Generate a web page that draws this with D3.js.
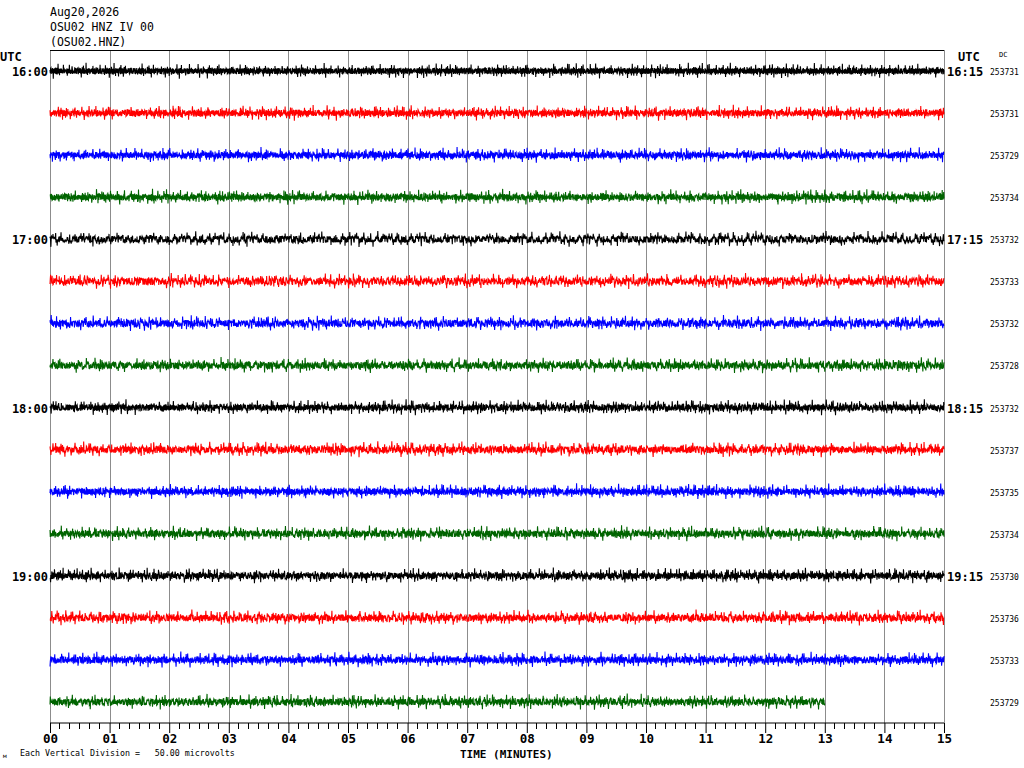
<!DOCTYPE html>
<html>
<head>
<meta charset="utf-8">
<script src="https://d3js.org/d3.v7.min.js"></script>
<style>
  body { margin: 0; background: #fff; }
  svg text { font-family: "DejaVu Sans Mono", monospace; fill: #000; }
</style>
</head>
<body>
<div id="chart"></div>
<script>
// header + row labels
const headerLines = ['Aug20,2026', 'OSU02 HNZ IV 00', '(OSU02.HNZ)'];
const startLabels = ['16:00', '', '', '', '17:00', '', '', '', '18:00', '', '', '', '19:00', '', '', ''];
const endLabels = ['16:15', '', '', '', '17:15', '', '', '', '18:15', '', '', '', '19:15', '', '', ''];
const dcValues = [253731, 253731, 253729, 253734, 253732, 253733, 253732, 253728,
                  253732, 253737, 253735, 253734, 253730, 253736, 253733, 253729];
const traceColors = ['#000000', '#ff0000', '#0000ff', '#006400'];
// minutes of data in each row (last row stops at 13)
const rowMinutes = [15, 15, 15, 15, 15, 15, 15, 15, 15, 15, 15, 15, 15, 15, 15, 13];
const minuteTicks = ['00', '01', '02', '03', '04', '05', '06', '07', '08', '09', '10', '11', '12', '13', '14', '15'];

// typical background noise (microvolts, about DC)
const noiseBase = [1.2, -2.5, 3.1, -0.8, -3.4, 2.2, 0.5, -1.9, 3.6, -2.8, 0.9, -3.9, 2.7, -0.4, 1.8, -2.2,
  3.3, -3.1, 0.2, 2.9, -1.5, -3.6, 1.4, 3.8, -2.0, 0.7, -2.9, 2.4, -1.1, 3.0, -3.3, 1.6, -0.6, 2.6,
  -2.4, 0.3, -3.7, 3.4, -1.3, 2.0, -2.7, 1.0, 3.5, -3.0, -0.2, 2.3, -1.7, 3.9, -2.6, 0.6, -3.5, 1.9,
  -0.9, 2.8, -2.1, 1.3, -3.2, 3.2, -0.3, -1.8, 2.5, -3.8, 1.1, 0.4, -2.3, 3.7, -1.0, 2.1, -3.4, 0.8,
  -1.6, 3.0, -2.9, 1.7, -0.5, 2.4, -3.6, 1.5, -1.2, 3.3, -2.5, 0.1, -3.0, 2.9, -0.7, 1.6, -2.8, 3.5,
  -1.4, 0.9, -3.3, 2.2, -2.0, 1.2, 3.1, -3.9, 0.5, -1.1, 2.7, -2.4, 1.8, -0.1, 3.4, -3.1, 0.3, -2.6,
  2.0, -1.5, 3.6, -2.2, 1.0, -3.5, 2.6];
// occasional bigger wiggles
const noiseSpikes = [0, 0, 0, 4.5, 0, 0, -1, 0, 0, 0, 0, -5.2, 0, 0, 1, 0, 0, 0, 3.8, 0, 0, 0, 0, 0,
  -2, 0, 0, 6.1, 0, 0, 0, 0, -4.4, 0, 0, 0, 1.5, 0, 0, 0, 0, 0, -3, 0, 0, 5, 0];
// per row start / step into the noise lists
const rowOffsets = [0, 37, 71, 12, 55, 90, 23, 64, 101, 8, 46, 83, 30, 68, 105, 17];
const rowSteps = [1, 3, 5, 7, 2, 4, 6, 8, 9, 10, 11, 12, 13, 14, 15, 16];

const width = 1024, height = 768;
const plot = {left: 50, right: 944, top: 50, bottom: 723};
const samplesPerMinute = 200;
const microvoltsPerDivision = 50;

const svg = d3.select('#chart').append('svg')
    .attr('width', width)
    .attr('height', height);

let xScale = d3.scaleLinear()
    .domain([0, 15])
    .range([plot.left, plot.right]);

let rowScale = d3.scaleBand()
    .domain(d3.range(dcValues.length))
    .range([plot.top, plot.bottom]);

let divPx = rowScale.bandwidth();

// header text
svg.selectAll('text.header')
    .data(headerLines)
  .enter().append('text')
    .attr('class', 'header')
    .attr('x', 50)
    .attr('y', (d, i) => 16 + i * 15)
    .attr('font-size', '11.5px')
    .text((d) => d);

// grid lines every minute
svg.selectAll('line.grid')
    .data(d3.range(16))
  .enter().append('line')
    .attr('class', 'grid')
    .attr('x1', (d) => Math.round(xScale(d)) + 0.5)
    .attr('x2', (d) => Math.round(xScale(d)) + 0.5)
    .attr('y1', plot.top)
    .attr('y2', plot.bottom)
    .attr('stroke', '#8c8c8c')
    .attr('stroke-width', 1);

svg.append('line')
    .attr('x1', plot.left).attr('x2', plot.right)
    .attr('y1', plot.top + 0.5).attr('y2', plot.top + 0.5)
    .attr('stroke', '#000');

// build and draw traces
dcValues.forEach((dc, row) => {
  let n = rowMinutes[row] * samplesPerMinute;
  let samples = [];
  for (let j = 0; j <= n; j++) {
    let b = noiseBase[(rowOffsets[row] + j * rowSteps[row]) % noiseBase.length];
    let s = noiseSpikes[(rowOffsets[row] + j) % noiseSpikes.length];
    samples.push({t: j / samplesPerMinute, v: b + s});
  }

  let center = rowScale(row) + divPx / 2;
  let yScale = d3.scaleLinear()
      .domain([-microvoltsPerDivision / 2, microvoltsPerDivision / 2])
      .range([center + divPx / 2, center - divPx / 2]);

  let line = d3.line()
      .x((d) => xScale(d.t))
      .y((d) => yScale(d.v));

  svg.append('path')
      .datum(samples)
      .attr('d', line)
      .attr('fill', 'none')
      .attr('stroke', traceColors[row % 4])
      .attr('stroke-width', 1.1);

  if (startLabels[row]) {
    svg.append('text')
        .attr('x', 48)
        .attr('y', center + 5)
        .attr('text-anchor', 'end')
        .attr('font-size', '12px')
        .attr('font-weight', 'bold')
        .text(startLabels[row]);
  }
  if (endLabels[row]) {
    svg.append('text')
        .attr('x', 947)
        .attr('y', center + 5)
        .attr('font-size', '12px')
        .attr('font-weight', 'bold')
        .text(endLabels[row]);
  }
  svg.append('text')
      .attr('x', 990)
      .attr('y', center + 4)
      .attr('font-size', '8px')
      .text(dc);
});

// UTC / DC headings
svg.append('text').attr('x', 0).attr('y', 61)
    .attr('font-size', '12px').attr('font-weight', 'bold').text('UTC');
svg.append('text').attr('x', 958).attr('y', 61)
    .attr('font-size', '12px').attr('font-weight', 'bold').text('UTC');
svg.append('text').attr('x', 999).attr('y', 57)
    .attr('font-size', '7px').text('DC');

// time axis
let axis = d3.axisBottom(xScale)
    .tickValues(d3.range(16))
    .tickFormat((d) => minuteTicks[d])
    .tickSize(10)
    .tickPadding(1);

let axisG = svg.append('g')
    .attr('transform', 'translate(0,' + plot.bottom + ')')
    .call(axis);
axisG.select('.domain').attr('d', 'M' + plot.left + ',0H' + plot.right).attr('stroke', '#000');
axisG.selectAll('.tick text')
    .attr('font-family', '"DejaVu Sans Mono", monospace')
    .attr('font-size', '12.5px')
    .attr('font-weight', 'bold')
    .attr('fill', '#000');

// minor ticks every 10 seconds
axisG.selectAll('line.minor')
    .data(d3.range(0, 90).filter((d) => d % 6 != 0))
  .enter().append('line')
    .attr('class', 'minor')
    .attr('x1', (d) => xScale(d / 6))
    .attr('x2', (d) => xScale(d / 6))
    .attr('y1', 0)
    .attr('y2', 6)
    .attr('stroke', '#000')
    .attr('shape-rendering', 'crispEdges');

svg.append('text')
    .attr('x', 460).attr('y', 758)
    .attr('font-size', '11px').attr('font-weight', 'bold')
    .text('TIME (MINUTES)');

svg.append('text')
    .attr('x', 3).attr('y', 758)
    .attr('font-size', '6px')
    .text('\u043c');
svg.append('text')
    .attr('x', 20).attr('y', 756)
    .attr('font-size', '8.3px')
    .attr('xml:space', 'preserve')
    .text('Each Vertical Division =   50.00 microvolts');
</script>
</body>
</html>
